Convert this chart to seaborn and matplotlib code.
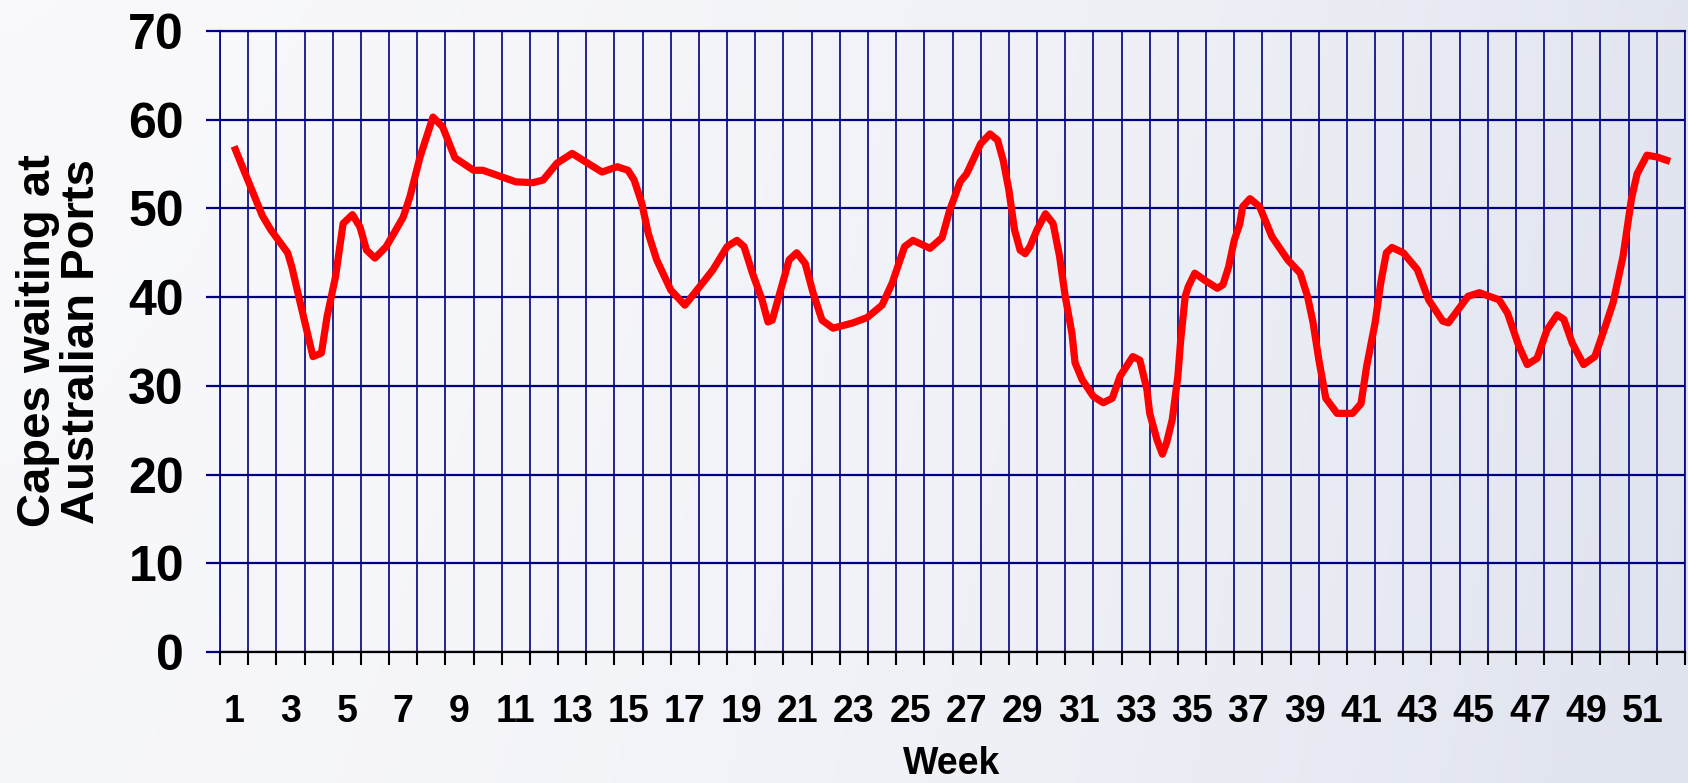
import numpy as np
import matplotlib
matplotlib.use("Agg")
import matplotlib.pyplot as plt
from matplotlib.colors import LinearSegmentedColormap
import seaborn as sns

# Capes waiting at Australian ports (week position, count)
week_pos = [1.0, 2.0, 2.3, 2.9, 3.05, 3.3, 3.6, 3.8, 4.1, 4.3, 4.6, 4.87, 5.2, 5.47,
            5.7, 6.0, 6.4, 7.0, 7.24, 7.6, 8.06, 8.4, 8.84, 9.5, 9.83, 11.0, 11.6,
            11.97, 12.46, 13.0, 13.6, 14.06, 14.6, 14.98, 15.2, 15.47, 15.7, 16.0,
            16.5, 17.0, 17.43, 18.0, 18.5, 18.85, 19.1, 19.4, 19.74, 19.95, 20.1,
            20.4, 20.7, 20.97, 21.27, 21.55, 21.87, 22.26, 22.97, 23.47, 24.0,
            24.36, 24.8, 25.1, 25.7, 26.13, 26.4, 26.77, 27.0, 27.5, 27.83, 28.1,
            28.3, 28.5, 28.7, 28.9, 29.08, 29.25, 29.5, 29.8, 30.07, 30.3, 30.5,
            30.74, 30.85, 31.1, 31.5, 31.85, 32.17, 32.45, 32.9, 33.15, 33.4, 33.5,
            33.76, 33.95, 34.1, 34.3, 34.5, 34.6, 34.76, 34.87, 35.1, 35.5, 35.9,
            36.1, 36.3, 36.5, 36.7, 36.8, 37.06, 37.4, 37.84, 38.4, 38.84, 39.1,
            39.3, 39.5, 39.75, 40.15, 40.7, 41.0, 41.2, 41.5, 41.7, 41.9, 42.1,
            42.5, 43.0, 43.4, 43.9, 44.1, 44.8, 45.2, 45.9, 46.2, 46.6, 46.9,
            47.25, 47.6, 47.96, 48.2, 48.5, 48.9, 49.3, 49.67, 49.95, 50.3, 50.6,
            50.8, 51.15, 51.5, 51.97]
capes = [57.0, 49.2, 47.6, 45.0, 43.4, 40.0, 36.0, 33.3, 33.7, 37.8, 42.3, 48.3, 49.3, 47.9,
         45.3, 44.4, 45.7, 49.0, 51.3, 55.8, 60.3, 59.2, 55.7, 54.3, 54.3, 53.0, 52.9,
         53.2, 55.1, 56.2, 55.0, 54.1, 54.7, 54.3, 53.2, 50.6, 47.2, 44.2,
         40.8, 39.1, 40.8, 43.1, 45.7, 46.4, 45.7, 42.7, 39.7, 37.2, 37.4,
         40.8, 44.2, 45.0, 43.8, 40.5, 37.4, 36.5, 37.1, 37.7, 39.1,
         41.6, 45.7, 46.4, 45.5, 46.7, 49.8, 53.0, 53.9, 57.3, 58.4, 57.7,
         55.4, 52.1, 47.6, 45.3, 44.9, 45.7, 47.6, 49.4, 48.3, 44.6, 40.1,
         35.9, 32.6, 30.7, 28.8, 28.1, 28.6, 31.1, 33.3, 32.9, 29.6, 26.9,
         23.9, 22.3, 23.6, 26.2, 31.1, 35.2, 40.1, 41.2, 42.7, 41.8, 41.0,
         41.4, 43.4, 46.4, 48.3, 50.2, 51.1, 50.2, 46.8, 44.2, 42.7, 40.1,
         37.1, 33.0, 28.6, 26.9, 26.9, 28.0, 32.2, 37.1, 41.6, 45.0, 45.6,
         45.0, 43.1, 39.7, 37.3, 37.1, 40.1, 40.5, 39.7, 38.2, 34.5, 32.4,
         33.1, 36.3, 38.0, 37.5, 34.8, 32.4, 33.3, 36.7, 39.4, 44.6, 51.1,
         53.9, 56.0, 55.8, 55.3]
weeks = list(range(1, 53))
week_ticks = weeks[::2]
y_ticks = [0, 10, 20, 30, 40, 50, 60, 70]

sns.set_theme(style="white")
plt.rcParams['font.family'] = ['Liberation Sans', 'DejaVu Sans']
plt.rcParams['font.weight'] = 'bold'

navy = '#000080'

fig = plt.figure(figsize=(16.88, 7.83), dpi=100)

# soft slide-like background
bg = fig.add_axes([0, 0, 1, 1])
gx = np.linspace(0, 1, 400)
gy = np.linspace(0, 1, 200)
GX, GY = np.meshgrid(gx, gy)
shade = np.clip(GX ** 1.6 * 0.9 + (1 - GY) * 0.1, 0, 1)
cmap = LinearSegmentedColormap.from_list('bg', ['#f9f9fc', '#eef0f6', '#dfe3ee'])
bg.imshow(shade, aspect='auto', extent=[0, 1, 0, 1], cmap=cmap, origin='lower')
bg.axis('off')

ax = fig.add_axes([220 / 1688, 1 - 652 / 783, 1465 / 1688, 621 / 783])
ax.patch.set_alpha(0)

sns.lineplot(x=week_pos, y=capes, ax=ax, color='#ff0000', lw=5.2, sort=False,
             solid_joinstyle='round', solid_capstyle='butt')

ax.set_xlim(weeks[0] - 0.5, weeks[-1] + 0.5)
ax.set_ylim(y_ticks[0], y_ticks[-1])
ax.set_yticks(y_ticks)
ax.set_yticklabels([str(v) for v in y_ticks], fontsize=36, fontweight='bold')
ax.set_xticks(week_ticks)
ax.set_xticklabels([str(w) for w in week_ticks], fontsize=27, fontweight='bold')
ax.set_xticks(np.arange(weeks[0] - 0.5, weeks[-1] + 1), minor=True)

ax.tick_params(axis='x', which='major', length=0, pad=30, colors='black')
ax.tick_params(axis='x', which='minor', length=9, width=1.5, color='black',
               direction='out', bottom=True)
ax.tick_params(axis='y', which='major', length=10, width=1.6, color=navy,
               direction='out', left=True, pad=16, labelcolor='black')

ax.set_axisbelow(True)
ax.grid(axis='x', which='minor', color=navy, lw=1.2)
ax.grid(axis='y', which='major', color=navy, lw=1.6)
ax.grid(axis='x', which='major', visible=False)

for side in ['left', 'right', 'top']:
    ax.spines[side].set_color(navy)
    ax.spines[side].set_linewidth(1.2)
ax.spines['top'].set_linewidth(1.6)
ax.spines['bottom'].set_color('black')
ax.spines['bottom'].set_linewidth(1.6)
ax.set_xlabel('')
ax.set_ylabel('')

fig.text(60 / 1688, 1 - 341 / 783, 'Capes waiting at\nAustralian Ports', rotation=90,
         ha='center', va='center', multialignment='center', fontsize=34,
         fontweight='bold', linespacing=1.0, color='black')
fig.text(952 / 1688, 1 / 783, 'Week', ha='center', va='bottom',
         fontsize=27, fontweight='bold', color='black')

fig.savefig('out.png', dpi=100)
